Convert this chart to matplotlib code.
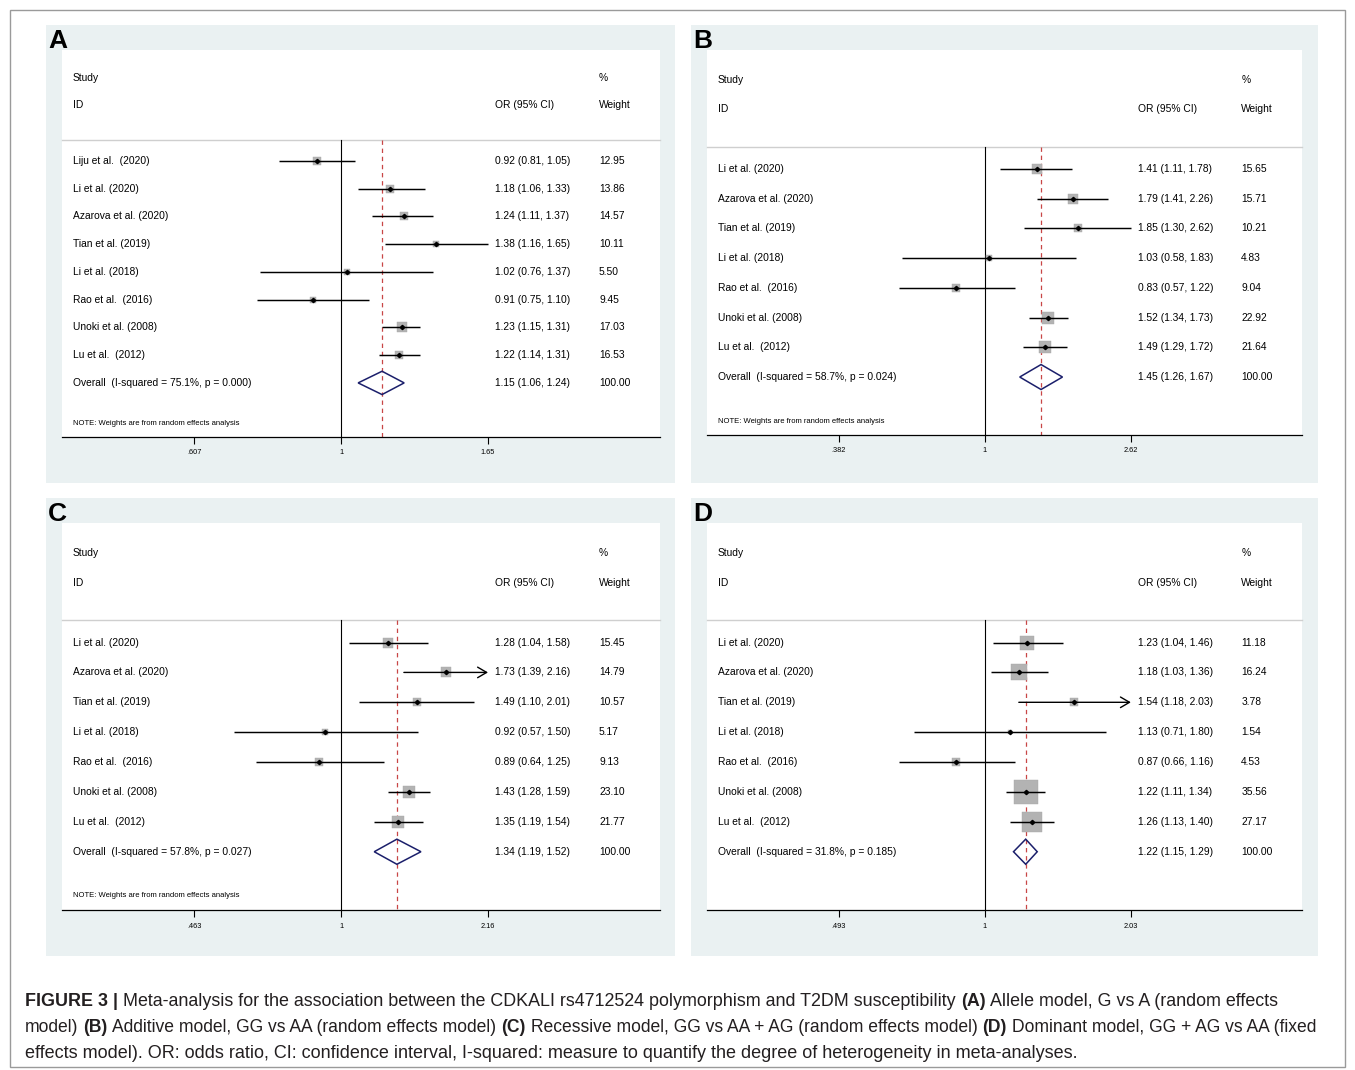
import numpy as np
import matplotlib
matplotlib.use("Agg")
import matplotlib.pyplot as plt
from matplotlib.patches import Rectangle, Polygon

plt.rcParams['font.family'] = ['Liberation Sans', 'DejaVu Sans']

# ---------------- data ----------------
studies_A = ['Liju et al.  (2020)', 'Li et al. (2020)', 'Azarova et al. (2020)', 'Tian et al. (2019)',
             'Li et al. (2018)', 'Rao et al.  (2016)', 'Unoki et al. (2008)', 'Lu et al.  (2012)']
or_A = [0.92, 1.18, 1.24, 1.38, 1.02, 0.91, 1.23, 1.22]
lo_A = [0.81, 1.06, 1.11, 1.16, 0.76, 0.75, 1.15, 1.14]
hi_A = [1.05, 1.33, 1.37, 1.65, 1.37, 1.10, 1.31, 1.31]
w_A = [12.95, 13.86, 14.57, 10.11, 5.50, 9.45, 17.03, 16.53]
overall_A = [1.15, 1.06, 1.24]
isq_A, p_A = '75.1%', '0.000'
ticks_A = ['.607', '1', '1.65']
clipped_A = []

studies_B = ['Li et al. (2020)', 'Azarova et al. (2020)', 'Tian et al. (2019)', 'Li et al. (2018)',
             'Rao et al.  (2016)', 'Unoki et al. (2008)', 'Lu et al.  (2012)']
or_B = [1.41, 1.79, 1.85, 1.03, 0.83, 1.52, 1.49]
lo_B = [1.11, 1.41, 1.30, 0.58, 0.57, 1.34, 1.29]
hi_B = [1.78, 2.26, 2.62, 1.83, 1.22, 1.73, 1.72]
w_B = [15.65, 15.71, 10.21, 4.83, 9.04, 22.92, 21.64]
overall_B = [1.45, 1.26, 1.67]
isq_B, p_B = '58.7%', '0.024'
ticks_B = ['.382', '1', '2.62']
clipped_B = []

studies_C = studies_B
or_C = [1.28, 1.73, 1.49, 0.92, 0.89, 1.43, 1.35]
lo_C = [1.04, 1.39, 1.10, 0.57, 0.64, 1.28, 1.19]
hi_C = [1.58, 2.16, 2.01, 1.50, 1.25, 1.59, 1.54]
w_C = [15.45, 14.79, 10.57, 5.17, 9.13, 23.10, 21.77]
overall_C = [1.34, 1.19, 1.52]
isq_C, p_C = '57.8%', '0.027'
ticks_C = ['.463', '1', '2.16']
clipped_C = [1]

studies_D = studies_B
or_D = [1.23, 1.18, 1.54, 1.13, 0.87, 1.22, 1.26]
lo_D = [1.04, 1.03, 1.18, 0.71, 0.66, 1.11, 1.13]
hi_D = [1.46, 1.36, 2.03, 1.80, 1.16, 1.34, 1.40]
w_D = [11.18, 16.24, 3.78, 1.54, 4.53, 35.56, 27.17]
overall_D = [1.22, 1.15, 1.29]
isq_D, p_D = '31.8%', '0.185'
ticks_D = ['.493', '1', '2.03']
clipped_D = [2]

note_text = 'NOTE: Weights are from random effects analysis'

# ---------------- figure ----------------
W, H = 1355, 1070
fig = plt.figure(figsize=(W / 100, H / 100), dpi=100)
fig.patch.set_facecolor('white')


def fx(x):
    return x / W


def fy(y):
    return 1 - y / H


def add_rect(x0, y0, x1, y1, **kw):
    r = Rectangle((fx(x0), fy(y1)), fx(x1) - fx(x0), fy(y0) - fy(y1),
                  transform=fig.transFigure, **kw)
    fig.add_artist(r)


# outer border
add_rect(10, 10, 1345, 1067, facecolor='none', edgecolor='#9a9a9a', lw=1.0)

BG = '#eaf1f2'
panels = [
    ('A', (46, 25, 675, 483), (62, 50, 660, 437),
     studies_A, or_A, lo_A, hi_A, w_A, overall_A, isq_A, p_A, ticks_A, clipped_A, 2.2, True),
    ('B', (691, 25, 1318, 483), (707, 50, 1302, 435),
     studies_B, or_B, lo_B, hi_B, w_B, overall_B, isq_B, p_B, ticks_B, clipped_B, 2.4, True),
    ('C', (46, 498, 675, 956), (62, 523, 660, 910),
     studies_C, or_C, lo_C, hi_C, w_C, overall_C, isq_C, p_C, ticks_C, clipped_C, 2.4, True),
    ('D', (691, 498, 1318, 956), (707, 523, 1302, 910),
     studies_D, or_D, lo_D, hi_D, w_D, overall_D, isq_D, p_D, ticks_D, clipped_D, 3.9, False),
]

FS = 7.4
for (letter, gbox, wbox, studies, est, lo, hi, w, ov, isq, pv, ticks, clipped, k, note) in panels:
    add_rect(*gbox, facecolor=BG, edgecolor='none', zorder=0)
    fig.text(fx(gbox[0] + 2), fy(gbox[1] + 4), letter, fontsize=19, fontweight='bold',
             ha='left', va='top')
    x0, y0, x1, y1 = wbox
    ax = fig.add_axes([fx(x0), fy(y1), fx(x1) - fx(x0), fy(y0) - fy(y1)])
    ax.set_facecolor('white')
    n = len(studies)
    T = float(ticks[2])
    s = np.log(T) / 0.2458
    ax.set_xscale('log')
    ax.set_xlim(np.exp(-0.4666 * s), np.exp(0.5334 * s))
    ax.set_ylim(n + 1.95, -4)
    for sp in ['top', 'left', 'right']:
        ax.spines[sp].set_visible(False)
    ax.spines['bottom'].set_color('black')
    ax.spines['bottom'].set_linewidth(0.9)
    tv = [float('0' + ticks[0]), 1.0, T]
    ax.set_xticks(tv)
    ax.set_xticklabels(ticks, fontsize=5.3)
    ax.xaxis.set_minor_locator(matplotlib.ticker.NullLocator())
    ax.tick_params(axis='x', direction='out', length=5, width=0.8, pad=4)
    ax.set_yticks([])

    tr = ax.get_yaxis_transform()  # x in axes fraction, y in data
    ax.text(0.018, -3, 'Study', transform=tr, fontsize=FS, va='center', ha='left')
    ax.text(0.018, -2, 'ID', transform=tr, fontsize=FS, va='center', ha='left')
    ax.text(0.724, -2, 'OR (95% CI)', transform=tr, fontsize=FS, va='center', ha='left')
    ax.text(0.898, -3, '%', transform=tr, fontsize=FS, va='center', ha='left')
    ax.text(0.898, -2, 'Weight', transform=tr, fontsize=FS, va='center', ha='left')
    ax.plot([0, 1], [-0.75, -0.75], transform=tr, color='#cfcfcf', lw=1.0, clip_on=False)

    # vertical lines
    ax.plot([1, 1], [-0.75, n + 1.95], color='black', lw=0.8, zorder=2)
    ax.plot([ov[0], ov[0]], [-0.75, n + 1.95], color='#c84646', lw=0.9,
            ls=(0, (3.5, 3.0)), zorder=2)

    for i in range(n):
        side = k * np.sqrt(w[i]) / 1.389
        ax.plot(est[i], i, marker='s', ms=side, color='#b3b3b3', mec='#a8a8a8', mew=0.3, zorder=3)
        if i in clipped:
            ax.annotate('', xy=(hi[i], i), xytext=(lo[i], i),
                        arrowprops=dict(arrowstyle='->,head_length=0.65,head_width=0.38',
                                        lw=1.0, color='black', shrinkA=0, shrinkB=0), zorder=4)
        else:
            ax.plot([lo[i], hi[i]], [i, i], color='black', lw=1.05, solid_capstyle='butt', zorder=4)
        ax.plot(est[i], i, marker='D', ms=2.2, color='black', zorder=5)
        ax.text(0.018, i, studies[i], transform=tr, fontsize=FS, va='center', ha='left')
        ax.text(0.724, i, f'{est[i]:.2f} ({lo[i]:.2f}, {hi[i]:.2f})', transform=tr,
                fontsize=FS, va='center', ha='left')
        ax.text(0.898, i, f'{w[i]:.2f}', transform=tr, fontsize=FS, va='center', ha='left')

    h = 0.42
    dia = Polygon([(ov[1], n), (ov[0], n - h), (ov[2], n), (ov[0], n + h)], closed=True,
                  facecolor='none', edgecolor='#1b1f6b', lw=1.1, zorder=6)
    ax.add_patch(dia)
    ax.text(0.018, n, f'Overall  (I-squared = {isq}, p = {pv})', transform=tr, fontsize=FS,
            va='center', ha='left')
    ax.text(0.724, n, f'{ov[0]:.2f} ({ov[1]:.2f}, {ov[2]:.2f})', transform=tr, fontsize=FS,
            va='center', ha='left')
    ax.text(0.898, n, '100.00', transform=tr, fontsize=FS, va='center', ha='left')
    if note:
        ax.text(0.018, n + 1.48, note_text, transform=tr, fontsize=5.5, va='center', ha='left')

# ---------------- caption ----------------
cap_lines = [
    [('FIGURE 3 |', True), ('Meta-analysis for the association between the CDKALI rs4712524 polymorphism and T2DM susceptibility', False),
     ('(A)', True), ('Allele model, G vs A (random effects', False)],
    [('model)', False), ('(B)', True), ('Additive model, GG vs AA (random effects model)', False), ('(C)', True),
     ('Recessive model, GG vs AA + AG (random effects model)', False), ('(D)', True),
     ('Dominant model, GG + AG vs AA (fixed', False)],
    [('effects model). OR: odds ratio, CI: confidence interval, I-squared: measure to quantify the degree of heterogeneity in meta-analyses.', False)],
]
cap_y = [1001, 1027, 1053]
cap_end = [1280, 1323, 1082]

renderer = fig.canvas.get_renderer()


def text_w(s, size, bold):
    t = fig.text(0, 0, s, fontsize=size, fontweight='bold' if bold else 'normal')
    bb = t.get_window_extent(renderer)
    t.remove()
    return bb.width


def line_width(segs, size):
    sp = text_w('a a', size, False) - text_w('aa', size, False)
    tot = 0
    for j, (s, b) in enumerate(segs):
        tot += text_w(s, size, b)
        if j < len(segs) - 1:
            tot += sp
    return tot


base = 12.0
for segs, yy, xe in zip(cap_lines, cap_y, cap_end):
    cs = base * (xe - 25) / line_width(segs, base)
    sp_w = text_w('a a', cs, False) - text_w('aa', cs, False)
    x = 25
    for j, (s, b) in enumerate(segs):
        t = fig.text(fx(x), fy(yy), s, fontsize=cs, fontweight='bold' if b else 'normal',
                     ha='left', va='center', color='#231f20')
        x += t.get_window_extent(renderer).width + sp_w

fig.savefig('out.png', dpi=100, facecolor='white')
